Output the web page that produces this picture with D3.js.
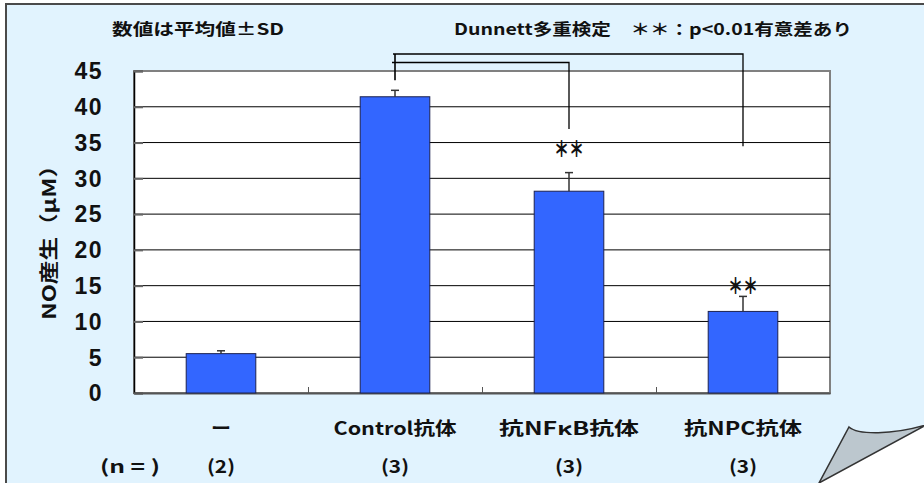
<!DOCTYPE html>
<html>
<head>
<meta charset="utf-8">
<script src="https://cdn.jsdelivr.net/npm/d3@7"></script>
<style>
  body { margin: 0; background: #ffffff; }
  text { font-family: "Noto Sans CJK JP", "Noto Sans", sans-serif; font-weight: 700; fill: #111; }
</style>
</head>
<body>
<div id="chart"></div>
<script>
// data
const categories = ["ー", "Control抗体", "抗NFκB抗体", "抗NPC抗体"];
const nLabels = ["(2)", "(3)", "(3)", "(3)"];
const means = [5.5, 41.4, 28.2, 11.4];
const sds = [0.4, 0.9, 2.6, 2.1];
const marks = ["", "", "＊＊", "＊＊"];
const markAt = [0, 0, 34.2, 15.1];
const yTicks = [0, 5, 10, 15, 20, 25, 30, 35, 40, 45];
// comparison bracket: from Control to each test group, where each leg stops (in µM)
const bracketFrom = "Control抗体";
const bracketTo = ["抗NFκB抗体", "抗NPC抗体"];
const bracketLegEnd = [43.7, 36.9, 34.5];

const W = 924, H = 483;
const margin = { top: 71, right: 94, bottom: 90, left: 134 };

const svg = d3.select("#chart").append("svg")
  .attr("width", W).attr("height", H);

// light blue panel
svg.append("rect")
  .attr("x", 6).attr("y", 4).attr("width", W + 10).attr("height", H + 10)
  .attr("fill", "#e1f3fe").attr("stroke", "#4a4a4a").attr("stroke-width", 2);

var x = d3.scaleBand().domain(categories)
  .range([margin.left, W - margin.right])
  .paddingInner(0.6).paddingOuter(0.3);
var y = d3.scaleLinear().domain([0, 45]).range([H - margin.bottom, margin.top]);
var cx = function (d) { return x(d) + x.bandwidth() / 2; };

// plot area
svg.append("rect")
  .attr("x", margin.left).attr("y", margin.top)
  .attr("width", W - margin.right - margin.left)
  .attr("height", y(0) - margin.top)
  .attr("fill", "#ffffff").attr("stroke", "#808080").attr("stroke-width", 2);

// gridlines
svg.append("g")
  .selectAll("line")
  .data(yTicks.filter(function (d) { return d > 0 && d < 45; }))
  .enter().append("line")
  .attr("x1", margin.left).attr("x2", W - margin.right)
  .attr("y1", function (d) { return y(d); })
  .attr("y2", function (d) { return y(d); })
  .attr("stroke", "#000").attr("stroke-width", 1);

// y axis (ticks inside)
var yAxis = svg.append("g")
  .attr("transform", "translate(" + margin.left + ",0)")
  .call(d3.axisRight(y).tickValues(yTicks).tickSize(9).tickFormat(""));
yAxis.select(".domain").attr("stroke", "#000").attr("stroke-width", 1.5);
yAxis.selectAll(".tick line").attr("stroke", "#666").attr("stroke-width", 2);

svg.append("g")
  .selectAll("text")
  .data(yTicks)
  .enter().append("text")
  .attr("x", 103)
  .attr("y", function (d) { return y(d); })
  .attr("dy", "0.36em")
  .attr("text-anchor", "end")
  .style("font-family", "'Liberation Sans', Arial, sans-serif")
  .style("font-size", "23px")
  .style("letter-spacing", "1.5px")
  .text(function (d) { return d; });

// x axis with ticks between categories
var xb = d3.scaleLinear().domain([0, 4]).range([margin.left, W - margin.right]);
var xAxis = svg.append("g")
  .attr("transform", "translate(0," + y(0) + ")")
  .call(d3.axisTop(xb).tickValues([1, 2, 3]).tickSize(6).tickFormat("").tickSizeOuter(0));
xAxis.select(".domain").attr("stroke", "#555").attr("stroke-width", 2);
xAxis.selectAll(".tick line").attr("stroke", "#555");

// bars
svg.append("g")
  .selectAll("rect")
  .data(categories)
  .enter().append("rect")
  .attr("x", function (d) { return x(d); })
  .attr("y", function (d, i) { return y(means[i]); })
  .attr("width", x.bandwidth())
  .attr("height", function (d, i) { return y(0) - y(means[i]); })
  .attr("fill", "#3366ff").attr("stroke", "#1c2250").attr("stroke-width", 1);

// error bars (upper half only)
var err = svg.append("g").attr("stroke", "#333").attr("stroke-width", 1.5);
categories.forEach(function (c, i) {
  err.append("line")
    .attr("x1", cx(c)).attr("x2", cx(c))
    .attr("y1", y(means[i])).attr("y2", y(means[i] + sds[i]));
  err.append("line")
    .attr("x1", cx(c) - 4).attr("x2", cx(c) + 4)
    .attr("y1", y(means[i] + sds[i])).attr("y2", y(means[i] + sds[i]));
});

// significance marks
svg.append("g")
  .selectAll("text")
  .data(categories)
  .enter().append("text")
  .attr("x", function (d) { return cx(d); })
  .attr("y", function (d, i) { return y(markAt[i]); })
  .attr("dy", "0.4em")
  .attr("text-anchor", "middle")
  .attr("textLength", 30).attr("lengthAdjust", "spacingAndGlyphs")
  .style("font-size", "22px")
  .style("font-weight", "900")
  .text(function (d, i) { return marks[i]; });

// comparison brackets
var br = svg.append("g").attr("fill", "none").attr("stroke", "#000").attr("stroke-width", 1.3);
var levels = [54, 62.5];
var toOrder = [bracketTo[1], bracketTo[0]];
toOrder.forEach(function (c, k) {
  var j = categories.indexOf(c);
  br.append("path")
    .attr("d", "M" + (cx(bracketFrom) - 2 + k * -1) + "," + levels[k] +
      "H" + cx(c) + "V" + y(bracketLegEnd[j - 1]));
});
br.append("line")
  .attr("x1", cx(bracketFrom)).attr("x2", cx(bracketFrom))
  .attr("y1", levels[0]).attr("y2", y(bracketLegEnd[0]))
  .attr("stroke-width", 1.6);

// title notes
svg.append("text")
  .attr("x", 112).attr("y", 35)
  .attr("textLength", 172).attr("lengthAdjust", "spacingAndGlyphs")
  .style("font-size", "16px")
  .text("数値は平均値±SD");
svg.append("text")
  .attr("x", 454).attr("y", 35)
  .attr("textLength", 398).attr("lengthAdjust", "spacingAndGlyphs")
  .style("font-size", "16px")
  .text("Dunnett多重検定　＊＊：p<0.01有意差あり");

// y title
svg.append("text")
  .attr("transform", "translate(56,237) rotate(-90)")
  .attr("text-anchor", "middle")
  .attr("textLength", 166).attr("lengthAdjust", "spacingAndGlyphs")
  .style("font-size", "19px")
  .text("NO産生（μM）");

// category labels
var labelW = [20, 123, 140, 118];
svg.append("g")
  .selectAll("text")
  .data(categories)
  .enter().append("text")
  .attr("x", function (d) { return cx(d); })
  .attr("y", 435)
  .attr("text-anchor", "middle")
  .attr("textLength", function (d, i) { return labelW[i]; })
  .attr("lengthAdjust", "spacingAndGlyphs")
  .style("font-size", "18px")
  .text(function (d) { return d; });

svg.append("text")
  .attr("x", 100).attr("y", 473)
  .attr("textLength", 60).attr("lengthAdjust", "spacingAndGlyphs")
  .style("font-size", "18px")
  .text("(n = )");
svg.append("g")
  .selectAll("text")
  .data(categories)
  .enter().append("text")
  .attr("x", function (d) { return cx(d); })
  .attr("y", 473)
  .attr("text-anchor", "middle")
  .attr("textLength", 28).attr("lengthAdjust", "spacingAndGlyphs")
  .style("font-size", "18px")
  .text(function (d, i) { return nLabels[i]; });

// page curl in the corner
svg.append("path")
  .attr("d", "M819,483 L924,427 L926,485 Z")
  .attr("fill", "#ffffff").attr("stroke", "none");
svg.append("path")
  .attr("d", "M849,427 C858,435 892,435 926,425 L819,483 Z")
  .attr("fill", "#bcc7ce").attr("stroke", "#333").attr("stroke-width", 1.5)
  .attr("stroke-linejoin", "miter");
</script>
</body>
</html>
